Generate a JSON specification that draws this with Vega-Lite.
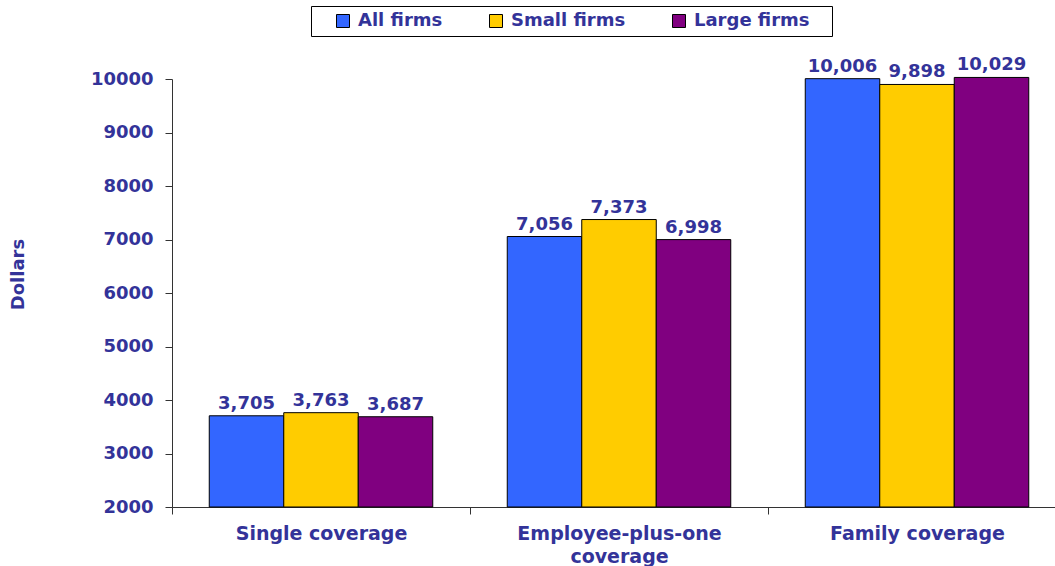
{
  "$schema": "https://vega.github.io/schema/vega-lite/v6.json",
  "width": 883,
  "height": 428,
  "autosize": {"type": "none"},
  "padding": {"left": 172, "top": 79, "right": 0, "bottom": 59},
  "background": "white",
  "config": {"view": {"stroke": null}, "font": "DejaVu Sans"},
  "data": {
    "values": [
      {"category": "Single coverage", "series": "All firms", "value": 3705},
      {"category": "Single coverage", "series": "Small firms", "value": 3763},
      {"category": "Single coverage", "series": "Large firms", "value": 3687},
      {"category": "Employee-plus-one coverage", "series": "All firms", "value": 7056},
      {"category": "Employee-plus-one coverage", "series": "Small firms", "value": 7373},
      {"category": "Employee-plus-one coverage", "series": "Large firms", "value": 6998},
      {"category": "Family coverage", "series": "All firms", "value": 10006},
      {"category": "Family coverage", "series": "Small firms", "value": 9898},
      {"category": "Family coverage", "series": "Large firms", "value": 10029}
    ]
  },
  "encoding": {
    "x": {
      "field": "category",
      "type": "nominal",
      "sort": ["Single coverage", "Employee-plus-one coverage", "Family coverage"],
      "scale": {"range": [0, 894], "paddingInner": 0, "paddingOuter": 0},
      "axis": {
        "title": null,
        "labelAngle": 0,
        "tickBand": "extent",
        "tickSize": 7,
        "tickColor": "#333333",
        "domainColor": "#333333",
        "labelFont": "DejaVu Sans",
        "labelFontWeight": "bold",
        "labelFontSize": 19,
        "labelColor": "#333399",
        "labelPadding": 10,
        "labelLineHeight": 23,
        "labelLimit": 400,
        "labelExpr": "datum.label == 'Employee-plus-one coverage' ? ['Employee-plus-one', 'coverage'] : datum.label"
      }
    },
    "xOffset": {
      "field": "series",
      "type": "nominal",
      "sort": ["All firms", "Small firms", "Large firms"],
      "scale": {"paddingOuter": 0.5, "paddingInner": 0}
    },
    "y": {
      "field": "value",
      "type": "quantitative",
      "scale": {"domain": [2000, 10000], "zero": false, "nice": false},
      "axis": {
        "values": [2000, 3000, 4000, 5000, 6000, 7000, 8000, 9000, 10000],
        "format": "d",
        "grid": false,
        "tickSize": 7,
        "tickColor": "#333333",
        "domainColor": "#333333",
        "labelFont": "DejaVu Sans",
        "labelFontWeight": "bold",
        "labelFontSize": 18,
        "labelColor": "#333399",
        "labelPadding": 12,
        "title": "Dollars",
        "titleFont": "DejaVu Sans",
        "titleFontWeight": "bold",
        "titleFontSize": 18,
        "titleColor": "#333399",
        "titleAngle": -90,
        "titleX": -154,
        "titleY": 195,
        "titleAlign": "center",
        "titleBaseline": "middle"
      }
    }
  },
  "layer": [
    {
      "mark": {"type": "bar", "stroke": "black", "strokeWidth": 1},
      "encoding": {
        "y2": {"datum": 2000},
        "color": {
          "field": "series",
          "type": "nominal",
          "sort": ["All firms", "Small firms", "Large firms"],
          "scale": {
            "domain": ["All firms", "Small firms", "Large firms"],
            "range": ["#3366FF", "#FFCC00", "#800080"]
          },
          "legend": {
            "title": "\u00a0",
            "titleOrient": "right",
            "titlePadding": 16,
            "titleFontSize": 18,
            "orient": "none",
            "legendX": 139,
            "legendY": -73,
            "direction": "horizontal",
            "strokeColor": "black",
            "fillColor": "white",
            "padding": 6,
            "symbolType": "square",
            "symbolSize": 169,
            "symbolStrokeColor": "black",
            "symbolStrokeWidth": 1,
            "symbolOpacity": 1,
            "symbolOffset": 17,
            "labelFont": "DejaVu Sans",
            "labelFontWeight": "bold",
            "labelFontSize": 18,
            "labelColor": "#333399",
            "labelOffset": 6,
            "columnPadding": 27
          }
        }
      }
    },
    {
      "mark": {
        "type": "text",
        "dy": -7,
        "baseline": "alphabetic",
        "align": "center",
        "font": "DejaVu Sans",
        "fontWeight": "bold",
        "fontSize": 18,
        "color": "#333399"
      },
      "encoding": {
        "text": {"field": "value", "type": "quantitative", "format": ","}
      }
    }
  ]
}
